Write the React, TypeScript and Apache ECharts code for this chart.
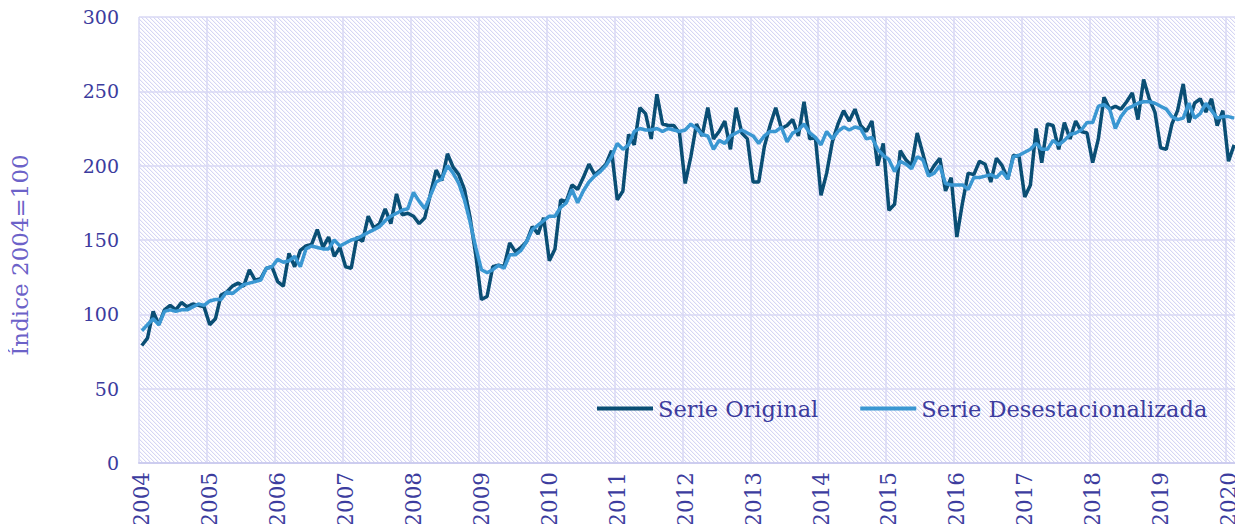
import { useEffect, useRef } from "react";
import * as echarts from "echarts";

const years = ["2004", "2005", "2006", "2007", "2008", "2009", "2010", "2011", "2012", "2013", "2014", "2015", "2016", "2017", "2018", "2019", "2020"];
const monthCodes = ["01", "02", "03", "04", "05", "06", "07", "08", "09", "10", "11", "12"];
const monthsInLastYear = 2;

const seriesNames = ["Serie Original", "Serie Desestacionalizada"];

const serieOriginal = [
  79, 84, 102, 93, 103, 106, 103, 108, 105, 107, 106, 105,
  93, 97, 113, 115, 119, 121, 119, 130, 123, 124, 131, 132,
  122, 119, 141, 132, 143, 146, 147, 157, 145, 152, 139, 145,
  132, 131, 152, 149, 166, 158, 161, 171, 161, 181, 167, 168,
  166, 161, 165, 181, 197, 190, 208, 199, 194, 184, 165, 140,
  110, 112, 132, 133, 132, 148, 142, 145, 149, 159, 154, 165,
  136, 144, 177, 176, 187, 184, 192, 201, 194, 197, 201, 210,
  177, 183, 221, 214, 239, 235, 218, 248, 228, 227, 227, 222,
  188, 206, 228, 220, 239, 218, 223, 230, 211, 239, 222, 218,
  189, 189, 213, 227, 239, 225, 227, 231, 220, 243, 218, 219,
  180, 195, 216, 228, 237, 230, 238, 227, 223, 230, 200, 215,
  170, 174, 210, 204, 200, 222, 208, 194, 200, 205, 183, 192,
  152, 175, 195, 194, 203, 201, 189, 205, 200, 191, 207, 206,
  179, 187, 225, 202, 228, 227, 211, 229, 218, 230, 223, 222,
  202, 218, 246, 238, 240, 238, 243, 249, 231, 258, 245, 236,
  212, 211, 228, 237, 255, 229, 242, 245, 236, 245, 227, 237,
  203, 214,
];

const serieDesestacionalizada = [
  89, 93, 97, 93, 102, 103, 102, 103, 103, 105, 107, 106,
  109, 110, 110, 115, 114, 117, 120, 121, 122, 123, 131, 132,
  137, 135, 136, 139, 132, 144, 146, 145, 144, 144, 150, 146,
  148, 150, 151, 153, 155, 157, 159, 163, 166, 168, 170, 171,
  182, 176, 171, 180, 189, 191, 200, 195, 188, 177, 162, 145,
  130, 128, 130, 133, 131, 140, 140, 143, 149, 157, 160, 163,
  166, 166, 172, 175, 184, 175, 183, 189, 193, 196, 200, 206,
  215, 211, 214, 223, 225, 224, 224, 225, 223, 225, 224, 223,
  224, 228, 225, 221, 220, 211, 217, 215, 220, 222, 224, 222,
  220, 215, 220, 223, 223, 226, 216, 222, 224, 228, 222, 219,
  214, 223, 218, 223, 226, 224, 226, 225, 218, 219, 211, 207,
  204, 196, 203, 201, 198, 206, 204, 193, 195, 200, 188, 187,
  187, 187, 184, 192, 192, 193, 194, 192, 196, 191, 206, 207,
  209, 211, 215, 211, 211, 217, 214, 217, 221, 222, 224, 229,
  229, 240, 241, 238, 225, 233, 238, 240, 242, 243, 243, 242,
  240, 238, 233, 231, 232, 242, 232, 235, 242, 237, 232, 233,
  233, 232,
];

const categories: string[] = [];
years.forEach((y, yi) => {
  const n = yi === years.length - 1 ? monthsInLastYear : 12;
  for (let m = 0; m < n; m++) categories.push(`${y}-${monthCodes[m]}`);
});

function makeHatch(): HTMLCanvasElement {
  const c = document.createElement("canvas");
  c.width = 4;
  c.height = 4;
  const ctx = c.getContext("2d")!;
  const img = ctx.createImageData(4, 4);
  for (let y = 0; y < 4; y++) {
    for (let x = 0; x < 4; x++) {
      const d = (((x - y) % 4) + 4) % 4;
      let col = [255, 255, 255];
      if (d === 0) col = [214, 214, 244];
      else if (d === 1) col = [244, 244, 252];
      const k = (y * 4 + x) * 4;
      img.data[k] = col[0];
      img.data[k + 1] = col[1];
      img.data[k + 2] = col[2];
      img.data[k + 3] = 255;
    }
  }
  ctx.putImageData(img, 0, 0);
  return c;
}

const FONT = "DejaVu Serif";
const LABEL_COLOR = "#3c3c9e";

export default function App() {
  const ref = useRef<HTMLDivElement>(null);
  useEffect(() => {
    if (!ref.current) return;
    const chart = echarts.init(ref.current, undefined, { renderer: "svg" });
    const hatch = makeHatch();
    chart.setOption({
      animation: false,
      backgroundColor: "#ffffff",
      textStyle: { fontFamily: FONT },
      grid: {
        left: 137,
        right: 6,
        top: 17,
        bottom: 69,
        show: true,
        borderWidth: 0,
        backgroundColor: { image: hatch, repeat: "repeat", imageWidth: 4, imageHeight: 4 },
      },
      legend: {
        left: 597,
        top: 397,
        padding: 0,
        itemGap: 42,
        itemWidth: 56,
        itemHeight: 4,
        icon: "rect",
        data: seriesNames,
        textStyle: { color: LABEL_COLOR, fontSize: 22.5, fontFamily: FONT },
      },
      xAxis: {
        type: "category",
        data: categories,
        boundaryGap: true,
        axisLine: { lineStyle: { color: "#cdcdef", width: 2 } },
        axisTick: { show: false },
        axisLabel: {
          interval: (i: number) => i % 12 === 0,
          formatter: (v: string) => v.slice(0, 4),
          rotate: 90,
          margin: 9,
          color: LABEL_COLOR,
          fontSize: 21.5,
          fontFamily: FONT,
        },
        splitLine: {
          show: true,
          interval: (i: number) => i % 12 === 0,
          lineStyle: { color: "#d8d8f4", width: 1.5 },
        },
      },
      yAxis: {
        type: "value",
        min: 0,
        max: 300,
        interval: 50,
        name: "Índice 2004=100",
        nameLocation: "middle",
        nameGap: 108,
        nameTextStyle: { color: "#6c62c8", fontSize: 23, fontFamily: FONT, padding: [0, 30, 0, 0] },
        axisLine: { show: false },
        axisTick: { show: false },
        axisLabel: { margin: 20, color: LABEL_COLOR, fontSize: 19, fontFamily: FONT },
        splitLine: { lineStyle: { color: "#d8d8f4", width: 1.5 } },
      },
      series: [
        {
          name: seriesNames[0],
          type: "line",
          data: serieOriginal,
          showSymbol: false,
          symbol: "none",
          lineStyle: { color: "#0a4e74", width: 3.5 },
          itemStyle: { color: "#0a4e74" },
        },
        {
          name: seriesNames[1],
          type: "line",
          data: serieDesestacionalizada,
          showSymbol: false,
          symbol: "none",
          lineStyle: { color: "#3a97d2", width: 3.5 },
          itemStyle: { color: "#3a97d2" },
        },
      ],
    });
    return () => chart.dispose();
  }, []);
  return <div ref={ref} style={{ width: 1243, height: 532, margin: -8 }} />;
}
